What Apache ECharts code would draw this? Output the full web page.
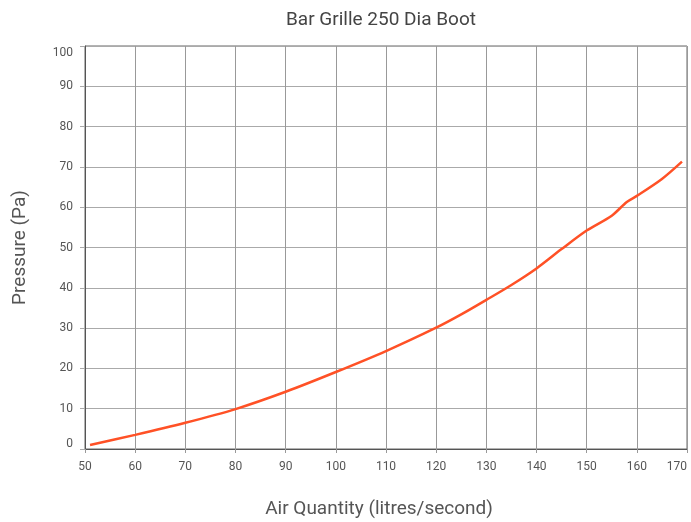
<!DOCTYPE html>
<html>
<head>
<meta charset="utf-8">
<script src="https://cdn.jsdelivr.net/npm/echarts@6/dist/echarts.min.js"></script>
<style>
  html, body { margin: 0; padding: 0; background: #fff; }
  #main { width: 691px; height: 522px; }
</style>
</head>
<body>
<div id="main"></div>
<script>
// air quantity (l/s) and pressure (Pa)
const airQuantity = [51, 60, 70, 80, 90, 100, 110, 120, 125, 130, 135, 140, 145, 150, 155, 158, 160, 165, 169];
const pressure = [1.0, 3.5, 6.5, 9.9, 14.2, 19.1, 24.3, 30.1, 33.4, 37.0, 40.7, 44.8, 49.6, 54.2, 57.9, 61.3, 62.8, 67.0, 71.3];

const points = airQuantity.map((q, i) => [q, pressure[i]]);

const myChart = echarts.init(document.getElementById('main'));

const option = {
    animation: false,
    textStyle: { fontFamily: 'Roboto' },
    title: {
        text: 'Bar Grille 250 Dia Boot',
        left: 281,
        top: 6,
        textStyle: { fontSize: 19, fontWeight: 'normal', color: '#444' }
    },
    grid: {
        left: 85, right: 4, top: 46, bottom: 73,
        outerBoundsMode: 'none',
        containLabel: false,
        show: true, borderColor: '#666', borderWidth: 1
    },
    xAxis: {
        type: 'value',
        min: 50, max: 170, interval: 10,
        name: 'Air Quantity (litres/second)',
        nameLocation: 'middle',
        nameGap: 51,
        nameTextStyle: { fontSize: 19, color: '#555', padding: [0, 14, 0, 0] },
        axisLine: { show: true, lineStyle: { color: '#555' } },
        axisTick: { show: true, length: 4, lineStyle: { color: '#999' } },
        axisLabel: { fontSize: 12, color: '#555', margin: 12, alignMaxLabel: 'right' },
        splitLine: { show: true, lineStyle: { color: '#999' } }
    },
    yAxis: {
        type: 'value',
        min: 0, max: 100, interval: 10,
        name: 'Pressure (Pa)',
        nameLocation: 'middle',
        nameGap: 55,
        nameTextStyle: { fontSize: 19, color: '#555' },
        axisLine: { show: true, lineStyle: { color: '#555' } },
        axisTick: { show: true, length: 5, lineStyle: { color: '#aaa' } },
        axisLabel: {
            fontSize: 12, color: '#555', margin: 12,
            // end labels sit a little inside the frame, as in the original
            formatter: (v) => v === 100 ? '{top|100}' : v === 0 ? '{bot|0}' : String(v),
            rich: {
                top: { fontSize: 12, color: '#555', padding: [13, 0, 0, 0] },
                bot: { fontSize: 12, color: '#555', padding: [0, 0, 11, 0] }
            }
        },
        splitLine: { show: true, lineStyle: { color: '#aaa' } }
    },
    series: [{
        type: 'line',
        data: points,
        smooth: 0.3,
        showSymbol: false,
        lineStyle: { color: '#ff5126', width: 2.5 }
    }]
};

myChart.setOption(option);
</script>
</body>
</html>
